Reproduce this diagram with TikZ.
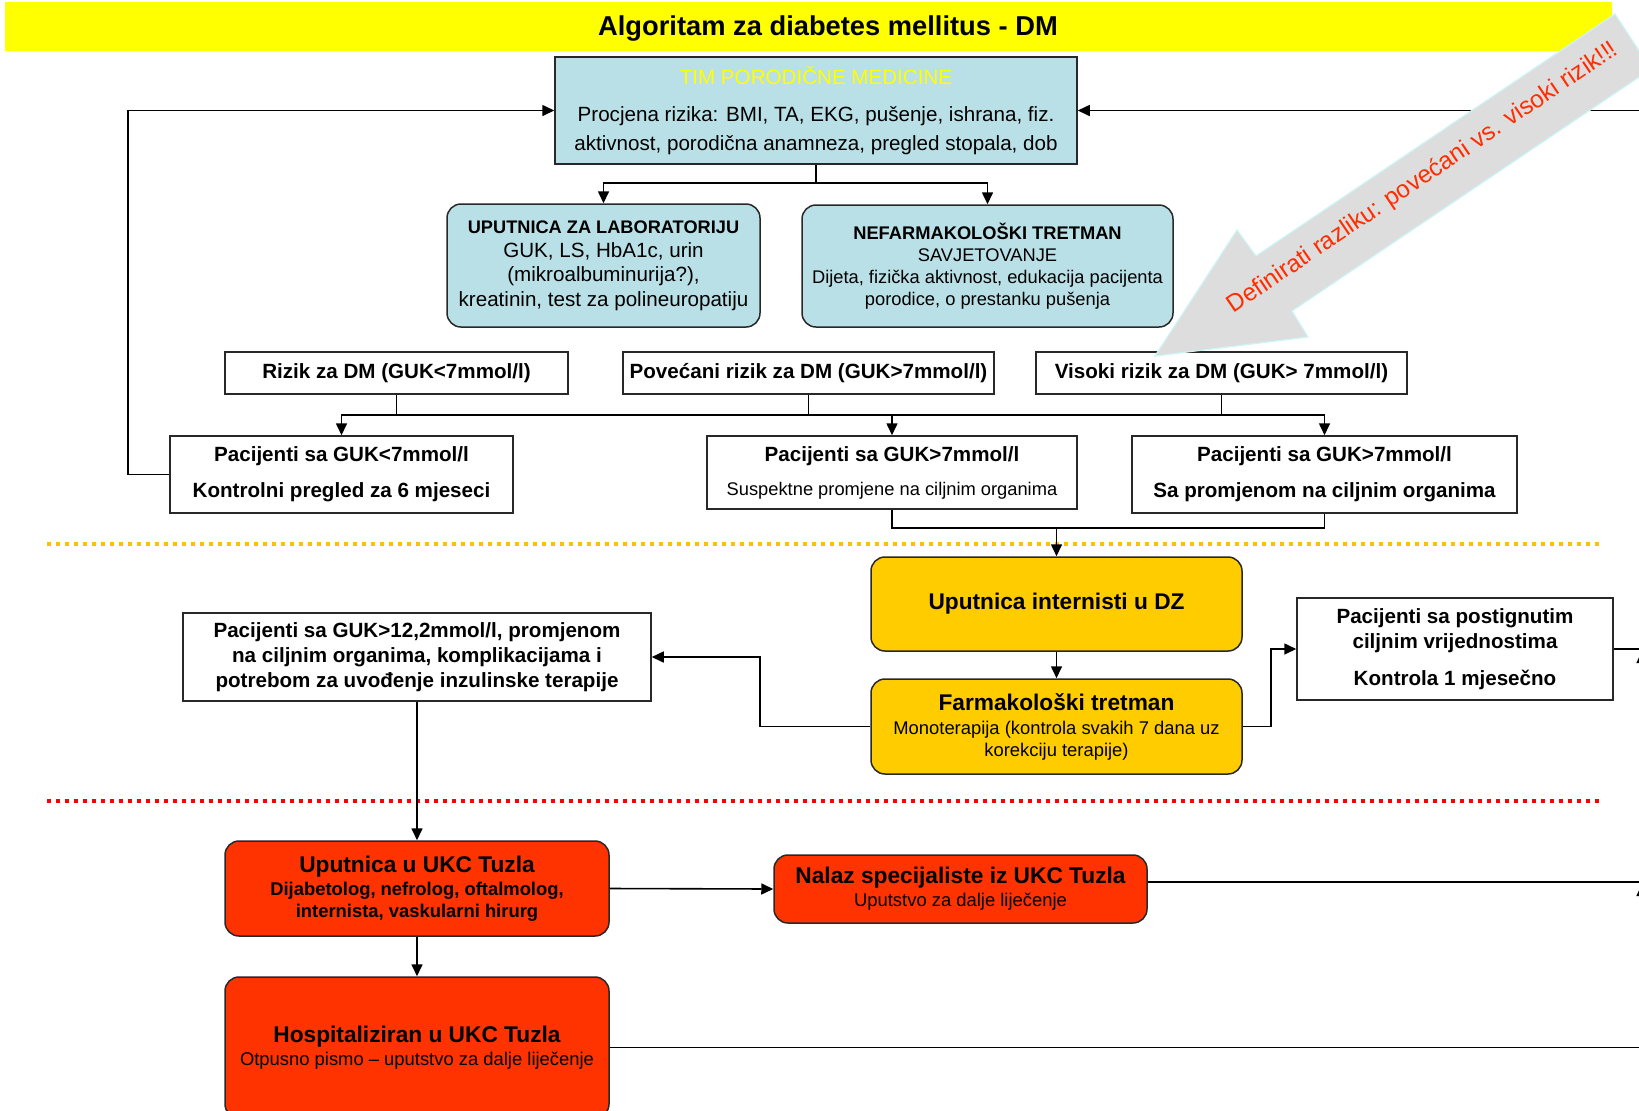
\documentclass[tikz,border=0pt]{standalone}
\usepackage{fontspec}
\setmainfont{Liberation Sans}
\usetikzlibrary{arrows.meta,calc}
\definecolor{titleyellow}{RGB}{255,255,0}
\definecolor{timblue}{RGB}{185,224,230}
\definecolor{ambr}{RGB}{255,204,0}
\definecolor{redbox}{RGB}{255,51,0}
\definecolor{dotyellow}{RGB}{255,192,0}
\definecolor{dotred}{RGB}{255,0,0}
\definecolor{arrowgray}{RGB}{221,221,221}
\definecolor{arrowedge}{RGB}{205,245,245}
\definecolor{notered}{RGB}{255,45,0}
\definecolor{edgegray}{RGB}{40,40,40}
\newcommand{\fsNorm}{\fontsize{10.3}{12.5}\selectfont}
\newcommand{\fsSmall}{\fontsize{9.15}{11}\selectfont}
\newcommand{\fsBig}{\fontsize{11.35}{13}\selectfont}
\begin{document}
\begin{tikzpicture}[x=0.5pt,y=-0.5pt,
  box/.style={draw=edgegray, line width=0.75pt, align=center, inner sep=0pt, text=black},
  rbox/.style={box, rounded corners=7pt},
  arr/.style={line width=0.8pt, -{Triangle[length=6pt,width=5.5pt]}},
  conn/.style={line width=0.8pt},
  dotline/.style={line width=2pt, dash pattern=on 2pt off 2.5pt}]
\useasboundingbox (0,0) rectangle (1639,1110);
\clip (0,0) rectangle (1639,1110);
\fill[white] (0,0) rectangle (1639,1110);

% title bar
\fill[titleyellow] (5,2) rectangle (1612,51);
\node[font=\bfseries\fontsize{13.65}{15}\selectfont] (title) at (828,28) {Algoritam za diabetes mellitus - DM};

% top box
\node[box, fill=timblue, minimum width=261pt, minimum height=53.5pt, font=\fontsize{10.3}{14.5}\selectfont] (tim) at (816,110.5)
  {\textcolor{titleyellow}{TIM PORODIČNE MEDICINE}\\[4pt]Procjena rizika: BMI, TA, EKG, pušenje, ishrana, fiz.\\aktivnost, porodična anamneza, pregled stopala, dob};

\node[rbox, fill=timblue, minimum width=156.5pt, minimum height=61.5pt, font=\fontsize{10.3}{12.2}\selectfont] (lab) at (603.5,265.5)
  {{\bfseries\fontsize{9.1}{11}\selectfont UPUTNICA ZA LABORATORIJU}\\GUK, LS, HbA1c, urin\\(mikroalbuminurija?),\\kreatinin, test za polineuropatiju};

\node[rbox, fill=timblue, minimum width=185.5pt, minimum height=61pt, font=\fsSmall] (nef) at (987.5,266)
  {{\bfseries NEFARMAKOLOŠKI TRETMAN}\\SAVJETOVANJE\\Dijeta, fizička aktivnost, edukacija pacijenta\\porodice, o prestanku pušenja};

% risk boxes
\node[box, minimum width=171.5pt, minimum height=21pt, font=\bfseries\fsNorm] (rizik) at (396.5,373) {Rizik za DM (GUK<7mmol/l)};
\node[box, minimum width=185.5pt, minimum height=21pt, font=\bfseries\fsNorm] (pov) at (808.5,373) {Povećani rizik za DM (GUK>7mmol/l)};
\node[box, minimum width=185.5pt, minimum height=21pt, font=\bfseries\fsNorm] (vis) at (1221.5,373) {Visoki rizik za DM (GUK> 7mmol/l)};

% patient boxes
\node[box, minimum width=171.5pt, minimum height=38.5pt, font=\bfseries\fontsize{10.3}{18}\selectfont] (p1) at (341.5,474.5)
  {Pacijenti sa GUK<7mmol/l\\Kontrolni pregled za 6 mjeseci};
\node[box, minimum width=185pt, minimum height=36.5pt, font=\fontsize{10.3}{17}\selectfont] (p2) at (892,472.5)
  {{\bfseries Pacijenti sa GUK>7mmol/l}\\{\fsSmall Suspektne promjene na ciljnim organima}};
\node[box, minimum width=192.5pt, minimum height=38.5pt, font=\bfseries\fontsize{10.3}{18}\selectfont] (p3) at (1324.5,474.5)
  {Pacijenti sa GUK>7mmol/l\\Sa promjenom na ciljnim organima};

% internist level
\node[rbox, fill=ambr, minimum width=185.5pt, minimum height=47pt, font=\bfseries\fsBig] (int) at (1056.5,604) {Uputnica internisti u DZ};
\node[rbox, fill=ambr, minimum width=185.5pt, minimum height=47.5pt, font=\fontsize{9.2}{11}\selectfont] (farm) at (1056.5,726.5)
  {{\bfseries\fsBig Farmakološki tretman}\\[1pt]Monoterapija (kontrola svakih 7 dana uz\\korekciju terapije)};
\node[box, minimum width=234pt, minimum height=44pt, font=\bfseries\fsNorm] (g12) at (417,657)
  {Pacijenti sa GUK>12,2mmol/l, promjenom\\na ciljnim organima, komplikacijama i\\potrebom za uvođenje inzulinske terapije};
\node[box, minimum width=158pt, minimum height=51pt, font=\bfseries\fsNorm] (post) at (1455,649)
  {Pacijenti sa postignutim\\ciljnim vrijednostima\\[6pt]Kontrola 1 mjesečno};

% hospital level
\node[rbox, fill=redbox, minimum width=192pt, minimum height=47.5pt, font=\bfseries\fontsize{9.2}{11}\selectfont] (ukc) at (417,888.5)
  {{\fsBig Uputnica u UKC Tuzla}\\[0.5pt]Dijabetolog, nefrolog, oftalmolog,\\internista, vaskularni hirurg};
\node[rbox, fill=redbox, minimum width=186.5pt, minimum height=34pt, font=\fontsize{9.2}{11.5}\selectfont] (nalaz) at (960.5,889)
  {{\bfseries\fsBig Nalaz specijaliste iz UKC Tuzla}\\Uputstvo za dalje liječenje};
\node[rbox, fill=redbox, minimum width=192pt, minimum height=70.5pt, font=\fontsize{9.2}{11.5}\selectfont] (hosp) at (417,1047.5)
  {{\bfseries\fsBig Hospitaliziran u UKC Tuzla}\\Otpusno pismo -- uputstvo za dalje liječenje};

% dotted separators
\coordinate (dyL) at (47,544); \coordinate (dyR) at (1599,544);
\coordinate (drL) at (47,801); \coordinate (drR) at (1599,801);
\draw[dotline, dotyellow] (dyL) -- (dyR);
\draw[dotline, dotred] (drL) -- (drR);

% connectors top
\coordinate (j1) at (816,183);
\draw[conn] (tim.south) -- (j1);
\draw[arr] (j1) -| (lab.north);
\draw[arr] (j1) -| (nef.north);

\coordinate (j2) at (808.5,415);
\draw[conn] (rizik.south) -- (rizik.south |- j2);
\draw[conn] (pov.south) -- (j2);
\draw[conn] (vis.south) -- (vis.south |- j2);
\draw[arr] (j2) -| (p1.north);
\draw[arr] (j2) -| (p2.north);
\draw[arr] (j2) -| (p3.north);

% feedback loops to top box
\draw[arr] (p1.west) -- ++(-41,0) |- (tim.west);
\coordinate (rin) at (1660,110.5);
\draw[arr] (rin) -- (tim.east);

% to internist
\coordinate (j3) at (1056.5,528);
\draw[conn] (p2.south) |- (j3);
\draw[conn] (p3.south) |- (j3);
\draw[arr] (j3) -- (int.north);
\draw[arr] (int.south) -- (farm.north);
\draw[arr] (farm.west) -- ++(-110,0) |- (g12.east);
\draw[arr] (farm.east) -- ++(28,0) |- (post.west);
\coordinate (e1) at (1660,649);
\draw[conn] (post.east) -- (e1);
\coordinate (u1b) at (1642,720); \coordinate (u1t) at (1642,651);
\draw[arr] (u1b) -- (u1t);

% hospital connectors
\draw[arr] (g12.south) -- (ukc.north);
\draw[arr] (ukc.east) -- (nalaz.west);
\draw[arr] (ukc.south) -- (hosp.north);
\coordinate (e2a) at ($(nalaz.east)+(0,-7)$);
\coordinate (e2) at (1660,882);
\draw[conn] (e2a) -- (e2);
\coordinate (u2b) at (1642,950); \coordinate (u2t) at (1642,884);
\draw[arr] (u2b) -- (u2t);
\coordinate (e3) at (1660,1047.5);
\draw[conn] (hosp.east) -- (e3);

% gray callout arrow
\fill[arrowgray, draw=arrowedge, line width=0.6pt]
  (1155,356) -- (1237,230) -- (1256,256) -- (1615,14) -- (1651,69) -- (1292,311) -- (1308,337) -- cycle;
\node[rotate=34, text=notered, font=\fontsize{12.2}{14}\selectfont] (note) at (1423,178)
  {Definirati razliku: povećani vs. visoki rizik!!!};
\end{tikzpicture}
\end{document}
